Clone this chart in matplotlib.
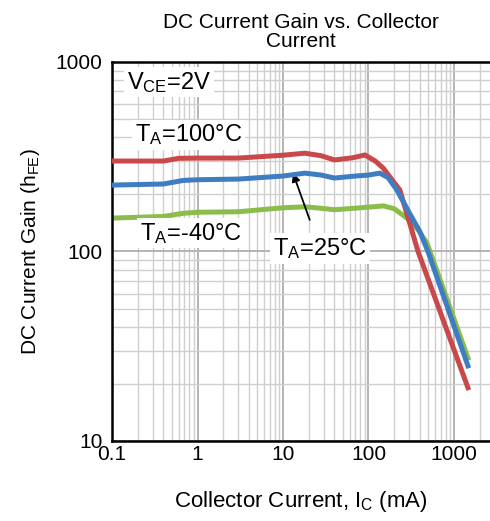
import numpy as np
import matplotlib
matplotlib.use("Agg")
import matplotlib.pyplot as plt

plt.rcParams['font.family'] = ['Liberation Sans', 'DejaVu Sans']
plt.rcParams['mathtext.default'] = 'regular'

# collector current (mA) and DC current gain
ic_100 = [0.1, 0.4, 0.6, 1, 3, 10, 18, 28, 40, 65, 91, 120, 148, 233, 380, 1458]
hfe_100 = [300, 300, 310, 311, 311, 322, 330, 320, 304, 312, 323, 300, 276, 211, 100, 19.1]

ic_25 = [0.1, 0.4, 0.68, 1, 3, 10, 18, 28, 40, 70, 100, 136, 170, 215, 300, 400, 496, 1458]
hfe_25 = [224, 227, 237, 239, 241, 250, 259, 253, 244, 250, 253, 259, 245, 211, 160, 127, 100, 24.9]

ic_m40 = [0.1, 0.4, 0.68, 1, 3, 10, 18, 28, 40, 80, 150, 200, 282, 380, 483, 1458]
hfe_m40 = [150, 153, 159, 161, 162, 170, 172, 169, 166, 170, 174, 168, 150, 130, 111, 27.4]

fig = plt.figure(figsize=(4.9, 5.21), dpi=100)
ax = fig.add_axes([0.2286, 0.1536, 0.7714, 0.7275])

ax.plot(ic_100, hfe_100, color='#c9484a', lw=3.6, solid_joinstyle='round', zorder=3)
ax.plot(ic_25, hfe_25, color='#3f7dc2', lw=3.6, solid_joinstyle='round', zorder=4)
ax.plot(ic_m40, hfe_m40, color='#8cbd4a', lw=3.6, solid_joinstyle='round', zorder=2)

ax.set_xscale('log')
ax.set_yscale('log')
ax.set_xlim(0.1, 2640)
ax.set_ylim(10, 1000)

ax.set_xticks([0.1, 1, 10, 100, 1000])
ax.set_xticklabels(['0.1', '1', '10', '100', '1000'])
ax.set_yticks([10, 100, 1000])
ax.set_yticklabels(['10', '100', '1000'])
ax.tick_params(which='both', length=0, labelsize=15)
ax.tick_params(axis='x', pad=3)
ax.tick_params(axis='y', pad=7)

ax.grid(which='major', color='#b4b4b4', lw=1.4)
ax.grid(which='minor', color='#cfcfcf', lw=1.0)
ax.set_axisbelow(True)

for s in ['right', 'top']:
    ax.spines[s].set_visible(False)
for s in ['left', 'bottom']:
    ax.spines[s].set_linewidth(1.8)
ax.plot([0, 1], [1, 1], transform=ax.transAxes, color='black', lw=1.8, clip_on=False)

fig.text(0.615, 0.975, 'DC Current Gain vs. Collector\nCurrent', ha='center', va='top',
         fontsize=15, linespacing=1.0)
ax.set_xlabel('Collector Current, I$_C$ (mA)', fontsize=16, labelpad=18)
ax.set_ylabel('DC Current Gain (h$_{FE}$)', fontsize=15, labelpad=10)

box = dict(facecolor='white', edgecolor='none', pad=2)
ax.text(0.15, 783, 'V$_{CE}$=2V', fontsize=17, va='center', bbox=box)
ax.text(0.79, 412, 'T$_A$=100°C', fontsize=17, va='center', ha='center', bbox=box)
ax.text(0.84, 125, 'T$_A$=-40°C', fontsize=17, va='center', ha='center', bbox=box)
ax.annotate('T$_A$=25°C', xy=(13.1, 259), xytext=(27, 104), fontsize=17,
            ha='center', va='center', bbox=box,
            arrowprops=dict(arrowstyle='-|>', color='black', lw=1.3,
                            mutation_scale=12, shrinkA=10, shrinkB=0))

fig.savefig('out.png', dpi=100)
